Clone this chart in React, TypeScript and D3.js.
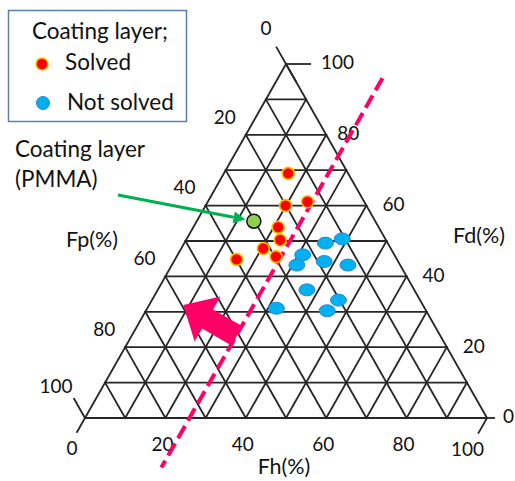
import React from "react";
import * as d3 from "d3";

// ---- data (ternary: Fd = top vertex, Fh = bottom-right, Fp = bottom-left) ----
const solvedFd = [69.1, 60.0, 61.1, 53.9, 50.3, 47.9, 45.6, 44.8];
const solvedFh = [16.0, 19.9, 24.8, 21.1, 23.4, 20.4, 24.7, 15.3];
const notSolvedFd = [49.4, 50.6, 46.1, 43.2, 44.2, 43.2, 36.2, 33.3, 30.3, 31.0];
const notSolvedFh = [35.1, 38.7, 31.1, 31.1, 37.4, 43.8, 37.1, 46.4, 45.1, 32.1];
const pmmaFd = [55.6];
const pmmaFh = [14.2];
const tickValues = [0, 20, 40, 60, 80, 100];
const gridValues = d3.range(0, 101, 10);
const boundaryFh = 26; // dashed iso-Fh boundary line
const boundaryFdRange = [-14, 96];
const arrowTail = { fd: 23.2, fh: 26.2 };
const arrowTip = { fd: 31.9, fh: 8.5 };
const pmmaLabelAnchor = { fd: 63, fh: -23.3 };

const W = 515;
const H = 481;
const FONT = "Lato, 'Open Sans', sans-serif";
const PINK = "#ff0066";
const GRID = "#262626";

const xScale = d3.scaleLinear().domain([0, 100]).range([85, 487]);
const yScale = d3.scaleLinear().domain([0, 100]).range([418, 64]);
const proj = (fd: number, fh: number): [number, number] => [xScale(fh + fd / 2), yScale(fd)];

const add = (a: [number, number], b: [number, number], k = 1): [number, number] => [a[0] + b[0] * k, a[1] + b[1] * k];
const unit = (a: [number, number], b: [number, number]): [number, number] => {
  const dx = b[0] - a[0], dy = b[1] - a[1];
  const l = Math.hypot(dx, dy);
  return [dx / l, dy / l];
};

export default function App() {
  const apex = proj(100, 0);
  const bl = proj(0, 0);
  const br = proj(0, 100);
  const uR = unit(apex, br);
  const uL = unit(apex, bl);

  const lines: [number, number][][] = [];
  gridValues.forEach((v) => {
    lines.push([proj(v, 0), proj(v, 100 - v)]);
    lines.push([proj(0, v), proj(100 - v, v)]);
    lines.push([proj(100 - v, 0), proj(0, 100 - v)]);
  });
  const lineGen = d3.line();

  const ticks: [number, number][][] = [
    [add(apex, uR, -20), add(apex, uR, 21)],
    [apex, add(apex, [1, 0], 25)],
    [add(bl, uR, -23), bl],
    [bl, add(bl, uL, 17)],
    [br, add(br, [1, 0], 8)],
    [br, add(br, uL, 18)],
  ];

  const T = proj(arrowTail.fd, arrowTail.fh);
  const P = proj(arrowTip.fd, arrowTip.fh);
  const d = unit(T, P);
  const n: [number, number] = [-d[1], d[0]];
  const L = Math.hypot(P[0] - T[0], P[1] - T[1]);
  const headLen = 28, shaftW = 11, headW = 26;
  const neck = add(T, d, L - headLen);
  const arrowPts = [
    add(T, n, shaftW),
    add(neck, n, shaftW),
    add(neck, n, headW),
    P,
    add(neck, n, -headW),
    add(neck, n, -shaftW),
    add(T, n, -shaftW),
  ];

  const G = proj(pmmaFd[0], pmmaFh[0]);
  const S = proj(pmmaLabelAnchor.fd, pmmaLabelAnchor.fh);
  const gd = unit(S, G);
  const gn: [number, number] = [-gd[1], gd[0]];
  const gTip = add(G, gd, -8.5);
  const gBase = add(gTip, gd, -12);
  const gHead = [gTip, add(gBase, gn, 6), add(gBase, gn, -6)];

  const bStart = proj(boundaryFdRange[1], boundaryFh);
  const bEnd = proj(boundaryFdRange[0], boundaryFh);

  const tickFont = 19;

  return (
    <svg width={W} height={H} style={{ position: "absolute", left: 0, top: 0, background: "#fff" }} fontFamily={FONT}>
      <rect width={W} height={H} fill="#fff" />
      <g stroke={GRID} strokeWidth={1.8} fill="none" strokeLinecap="square">
        {lines.map((l, i) => (
          <path key={i} d={lineGen(l) || ""} />
        ))}
        {ticks.map((l, i) => (
          <path key={"t" + i} d={lineGen(l) || ""} strokeLinecap="butt" />
        ))}
      </g>

      {tickValues.map((v) => {
        const e = proj(100 - v, 0);
        const off = v === 0 ? [-20, -36] : v === 100 ? [-29, -32] : [-21, -18];
        return (
          <text key={"fp" + v} x={e[0] + off[0]} y={e[1] + off[1]} fontSize={tickFont} textAnchor="middle" dy="0.36em" fill="#111">
            {v}
          </text>
        );
      })}
      {tickValues.map((v) => {
        const e = proj(v, 100 - v);
        const dx = v === 100 ? 35 : v === 80 ? 11 : 16;
        return (
          <text key={"fd" + v} x={e[0] + dx} y={e[1] - 1.5} fontSize={tickFont} textAnchor="start" dy="0.36em" fill="#111">
            {v}
          </text>
        );
      })}
      {tickValues.map((v) => {
        const e = proj(0, v);
        const off = v === 0 ? [-13, 30] : v === 100 ? [-19.5, 31] : [-3, 26];
        return (
          <text key={"fh" + v} x={e[0] + off[0]} y={e[1] + off[1]} fontSize={tickFont} textAnchor="middle" dy="0.36em" fill="#111">
            {v}
          </text>
        );
      })}

      <text x={66} y={247} fontSize={21.5} fill="#111">Fp(%)</text>
      <text x={453} y={243} fontSize={21.5} fill="#111">Fd(%)</text>
      <text x={xScale(50) - 2} y={yScale(0) + 56} fontSize={21.5} textAnchor="middle" fill="#111">Fh(%)</text>

      <path d={lineGen([bStart, bEnd]) || ""} stroke={PINK} strokeWidth={4} strokeDasharray="14 6" fill="none" />

      <polygon points={arrowPts.map((p) => p.join(",")).join(" ")} fill={PINK} />

      <path d={lineGen([S, gBase]) || ""} stroke="#00b050" strokeWidth={3} fill="none" />
      <polygon points={gHead.map((p) => p.join(",")).join(" ")} fill="#00b050" />
      <text x={15} y={157} fontSize={22.5} fill="#111">Coating layer</text>
      <text x={15} y={187} fontSize={22.5} fill="#111">(PMMA)</text>

      {notSolvedFd.map((fd, i) => {
        const p = proj(fd, notSolvedFh[i]);
        return <ellipse key={"b" + i} cx={p[0]} cy={p[1]} rx={8} ry={6} fill="#00b0f0" stroke="#2a86d0" strokeWidth={1} />;
      })}
      {solvedFd.map((fd, i) => {
        const p = proj(fd, solvedFh[i]);
        return <circle key={"r" + i} cx={p[0]} cy={p[1]} r={6} fill="#ff0000" stroke="#ffc000" strokeWidth={1.6} />;
      })}
      {pmmaFd.map((fd, i) => {
        const p = proj(fd, pmmaFh[i]);
        return <circle key={"g" + i} cx={p[0]} cy={p[1]} r={7} fill="#92d050" stroke="#111" strokeWidth={1.5} />;
      })}

      <rect x={8.5} y={10.5} width={178} height={111} fill="#fff" stroke="#5a80b0" strokeWidth={1.5} />
      <text x={32} y={39} fontSize={22.5} fill="#111">Coating layer;</text>
      <circle cx={42} cy={64} r={6} fill="#ff0000" stroke="#ffc000" strokeWidth={1.6} />
      <text x={65} y={70} fontSize={22.5} fill="#111">Solved</text>
      <circle cx={43} cy={103} r={6.5} fill="#00b0f0" stroke="#2a86d0" strokeWidth={1} />
      <text x={67} y={110} fontSize={22.5} fill="#111">Not solved</text>
    </svg>
  );
}
